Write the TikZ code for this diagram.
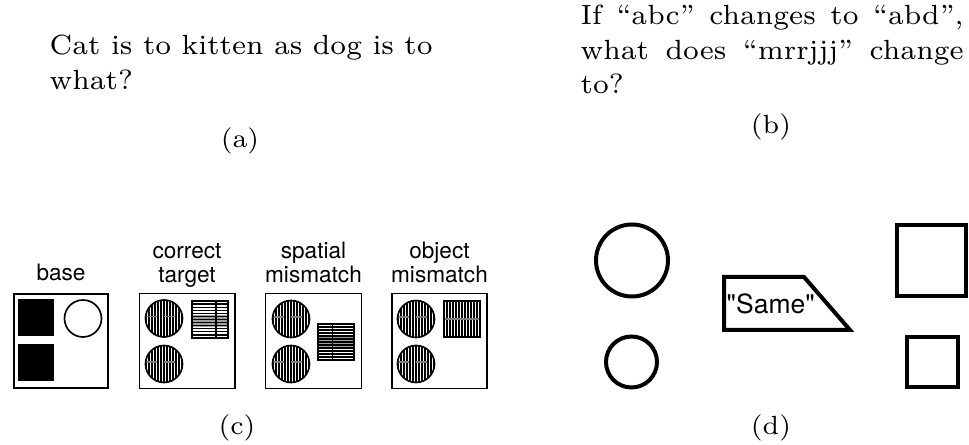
\documentclass[tikz,border=0pt]{standalone}
\usepackage{fontspec}
\newfontfamily\helv{TeX Gyre Heros}
\newfontfamily\lmseven{lmroman7-regular.otf}
\newlength\colw
\setlength\colw{103.4pt}
\tikzset{
  serif/.style={font=\lmseven\fontsize{7.1}{8.5}\selectfont, inner sep=0pt},
  body/.style={font=\lmseven\fontsize{7.5}{9}\selectfont, inner sep=0pt, anchor=base west},
  lab/.style={font=\helv\fontsize{6.1}{7}\selectfont, inner sep=0pt, anchor=base},
  fineline/.style={line width=0.45pt},
  hatchline/.style={line width=0.34pt},
  boldline/.style={line width=1.08pt},
}
% disc filled with vertical stripes: centre x, centre y, radius
\newcommand\stripedisc[3]{%
  \begin{scope}
    \clip (#1,#2) circle [radius=#3];
    \foreach \k in {-6,...,6} \draw[hatchline] ({#1+\k*3},{#2-#3}) -- ({#1+\k*3},{#2+#3});
    \draw[hatchline, gray, densely dashed] ({#1-#3},{#2-2}) -- ({#1+#3},{#2-2});
  \end{scope}
  \draw[fineline] (#1,#2) circle [radius=#3];
}
% square with horizontal stripes, a denser band and one vertical rule
% x1, y1, x2, y2, relative x of the rule
\newcommand\hstripesq[5]{%
  \fill[gray!75] (#1,{#2+0.37*(#4-#2)}) rectangle (#3,{#2+0.70*(#4-#2)});
  \foreach \k in {1,...,11} \draw[hatchline] (#1,{#2+\k*(#4-#2)/12}) -- (#3,{#2+\k*(#4-#2)/12});
  \draw[hatchline] ({#1+#5*(#3-#1)},#2) -- ({#1+#5*(#3-#1)},#4);
  \draw[fineline] (#1,#2) rectangle (#3,#4);
}
% square with vertical stripes
\newcommand\vstripesq[4]{%
  \foreach \k in {1,...,11} \draw[hatchline] ({#1+\k*3},#2) -- ({#1+\k*3},#4);
  \draw[hatchline, gray] (#1,{(#2+#4)/2}) -- (#3,{(#2+#4)/2});
  \draw[fineline] (#1,#2) rectangle (#3,#4);
}
\begin{document}
\begin{tikzpicture}[x=0.27pt,y=-0.27pt]
\useasboundingbox (0,0) rectangle (969,445);

% (a) verbal analogy
\node[body] (a1) at (49,55) {\makebox[\colw][s]{Cat is to kitten as dog is to}};
\node[body] (a2) at (49,90) {what?};
\node[serif, anchor=base] (acap) at (240,148) {(a)};

% (b) letter-string analogy
\node[body] (b1) at (580,25) {\makebox[\colw][s]{If “abc” changes to “abd”,}};
\node[body] (b2) at (580,60) {\makebox[\colw][s]{what does “mrrjjj” change}};
\node[body] (b3) at (580,94) {to?};
\node[serif, anchor=base] (bcap) at (771,134) {(b)};

% (c) scenes
\node[lab] (lbase) at (61,281) {base};
\node[lab] (lct1) at (187,259) {correct};
\node[lab] (lct2) at (187,283) {target};
\node[lab] (lsm1) at (313.5,259) {spatial};
\node[lab] (lsm2) at (313.5,283) {mismatch};
\node[lab] (lom1) at (439.5,259) {object};
\node[lab] (lom2) at (439.5,283) {mismatch};

% base
\draw[fineline] (14,294) rectangle (108,388);
\fill (18,299) rectangle (54,336);
\fill (18,344) rectangle (54,381);
\draw[fineline] (83,318.5) circle [radius=18.5];

% correct target
\draw[fineline] (139.5,293.5) rectangle (235,388.5);
\stripedisc{164}{318.5}{18.5}
\stripedisc{164}{364}{18.5}
\hstripesq{192}{301}{228}{338}{0.67}

% spatial mismatch
\draw[fineline] (265.5,293.5) rectangle (361.5,388.5);
\stripedisc{291}{319}{18.5}
\stripedisc{291}{364}{18.5}
\hstripesq{318}{324}{354}{360}{0.4}

% object mismatch
\draw[fineline] (392,293.5) rectangle (487,388.5);
\stripedisc{416}{319}{18.5}
\stripedisc{416}{364}{18.5}
\vstripesq{444}{301}{480}{337}

\node[serif, anchor=base] (ccap) at (237,435) {(c)};

% (d) shapes and the relation node
\draw[boldline] (632,260.5) circle [radius=36];
\draw[boldline] (631.5,362) circle [radius=25.5];
\draw[boldline] (724,277) -- (804,277) -- (850,330) -- (724,330) -- cycle;
\node[inner sep=0pt, anchor=base west, font=\helv\fontsize{7.15}{8}\selectfont] (same) at (726,314) {"Same"};
\draw[boldline] (897,225) rectangle (966,296);
\draw[boldline] (907,337) rectangle (958,387);

\node[serif, anchor=base] (dcap) at (771,435) {(d)};
\end{tikzpicture}
\end{document}
